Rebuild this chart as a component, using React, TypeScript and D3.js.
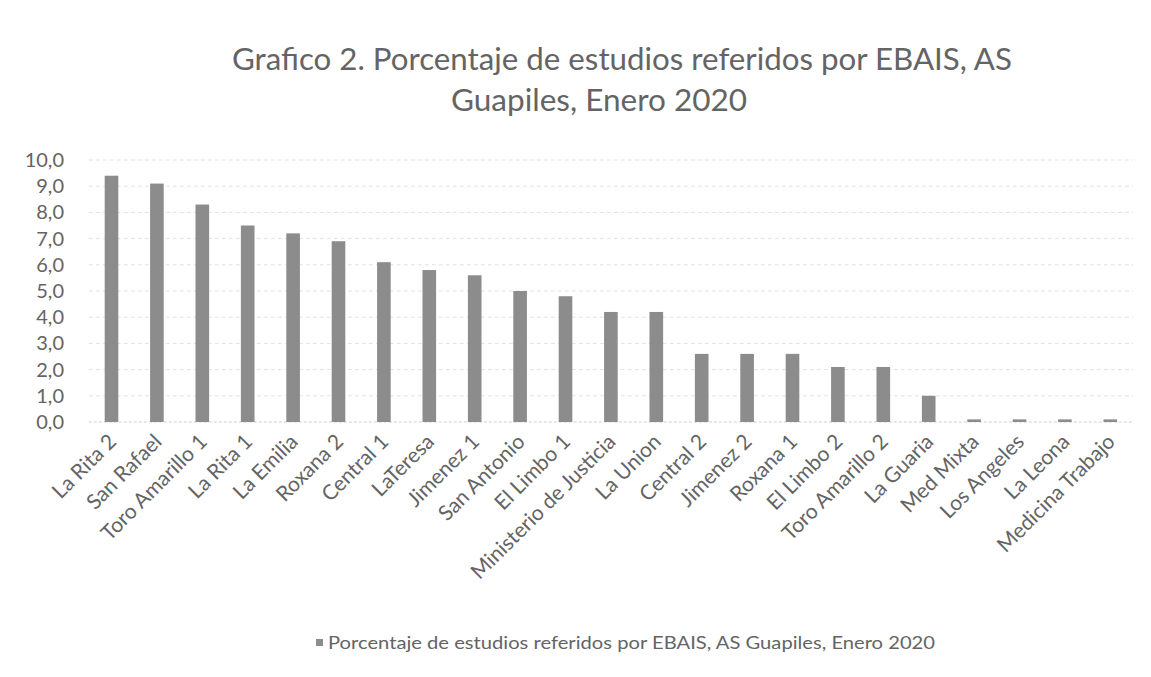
import React from "react";
import * as d3 from "d3";

const categories: string[] = [
  "La Rita 2", "San Rafael", "Toro Amarillo 1", "La Rita 1", "La Emilia", "Roxana 2",
  "Central 1", "LaTeresa", "Jimenez 1", "San Antonio", "El Limbo 1", "Ministerio de Justicia",
  "La Union", "Central 2", "Jimenez 2", "Roxana 1", "El Limbo 2", "Toro Amarillo 2",
  "La Guaria", "Med Mixta", "Los Angeles", "La Leona", "Medicina Trabajo",
];
const values: number[] = [
  9.4, 9.1, 8.3, 7.5, 7.2, 6.9, 6.1, 5.8, 5.6, 5.0, 4.8, 4.2,
  4.2, 2.6, 2.6, 2.6, 2.1, 2.1, 1.0, 0.1, 0.1, 0.1, 0.1,
];
const yTicks: number[] = [0, 1, 2, 3, 4, 5, 6, 7, 8, 9, 10];
const titleLines: string[] = [
  "Grafico 2. Porcentaje de estudios referidos por EBAIS, AS",
  "Guapiles, Enero 2020",
];
const seriesName = "Porcentaje de estudios referidos por EBAIS, AS Guapiles, Enero 2020";

const W = 1151;
const H = 677;
const FONT = "Lato, 'Open Sans', sans-serif";
const TEXT = "#646464";

export default function App() {
  const x = d3
    .scaleBand<string>()
    .domain(categories)
    .range([88.8, 88.8 + 23 * 45.4])
    .paddingInner(0.7)
    .paddingOuter(0.35);
  const y = d3.scaleLinear().domain([0, 10]).range([422, 160]);
  const fmt = (v: number) => d3.format(".1f")(v).replace(".", ",");
  const [gx0, gx1] = x.range();

  return (
    <svg
      width={W}
      height={H}
      viewBox={`0 0 ${W} ${H}`}
      style={{ position: "absolute", left: 0, top: 0, background: "#fff" }}
    >
      <rect x={0} y={0} width={W} height={H} fill="#fff" />
      {/* title */}
      <text x={232} y={70} fontFamily={FONT} fontSize={30} fill={TEXT}
        textLength={780} lengthAdjust="spacingAndGlyphs">{titleLines[0]}</text>
      <text x={451} y={111} fontFamily={FONT} fontSize={30} fill={TEXT}
        textLength={296} lengthAdjust="spacingAndGlyphs">{titleLines[1]}</text>

      {/* gridlines */}
      {yTicks.map((t) => (
        <line key={"g" + t} x1={gx0} x2={gx1} y1={y(t)} y2={y(t)}
          stroke={t === 0 ? "#cfcfcf" : "#e2e2e2"} strokeWidth={1}
          strokeDasharray={t === 0 ? "3 2" : "4 3"} />
      ))}

      {/* y tick labels */}
      {yTicks.map((t) => (
        <text key={"t" + t} x={64} y={y(t)} dy="0.35em" textAnchor="end"
          fontFamily={FONT} fontSize={20} fill={TEXT}>{fmt(t)}</text>
      ))}

      {/* bars */}
      {categories.map((c, i) => (
        <rect key={"b" + c} x={x(c)} y={y(values[i])} width={x.bandwidth()}
          height={y(0) - y(values[i])} fill="#8c8c8c" />
      ))}

      {/* category labels */}
      {categories.map((c) => {
        const cx = (x(c) as number) + x.bandwidth() / 2;
        return (
          <text key={"l" + c} transform={`translate(${cx + 6},${443}) rotate(-45)`}
            textAnchor="end" fontFamily={FONT} fontSize={21} fill={TEXT}>{c}</text>
        );
      })}

      {/* legend */}
      <rect x={316} y={639} width={7} height={7} fill="#8c8c8c" />
      <text x={328} y={649} fontFamily={FONT} fontSize={18} fill={TEXT}
        textLength={607} lengthAdjust="spacingAndGlyphs">{seriesName}</text>
    </svg>
  );
}
